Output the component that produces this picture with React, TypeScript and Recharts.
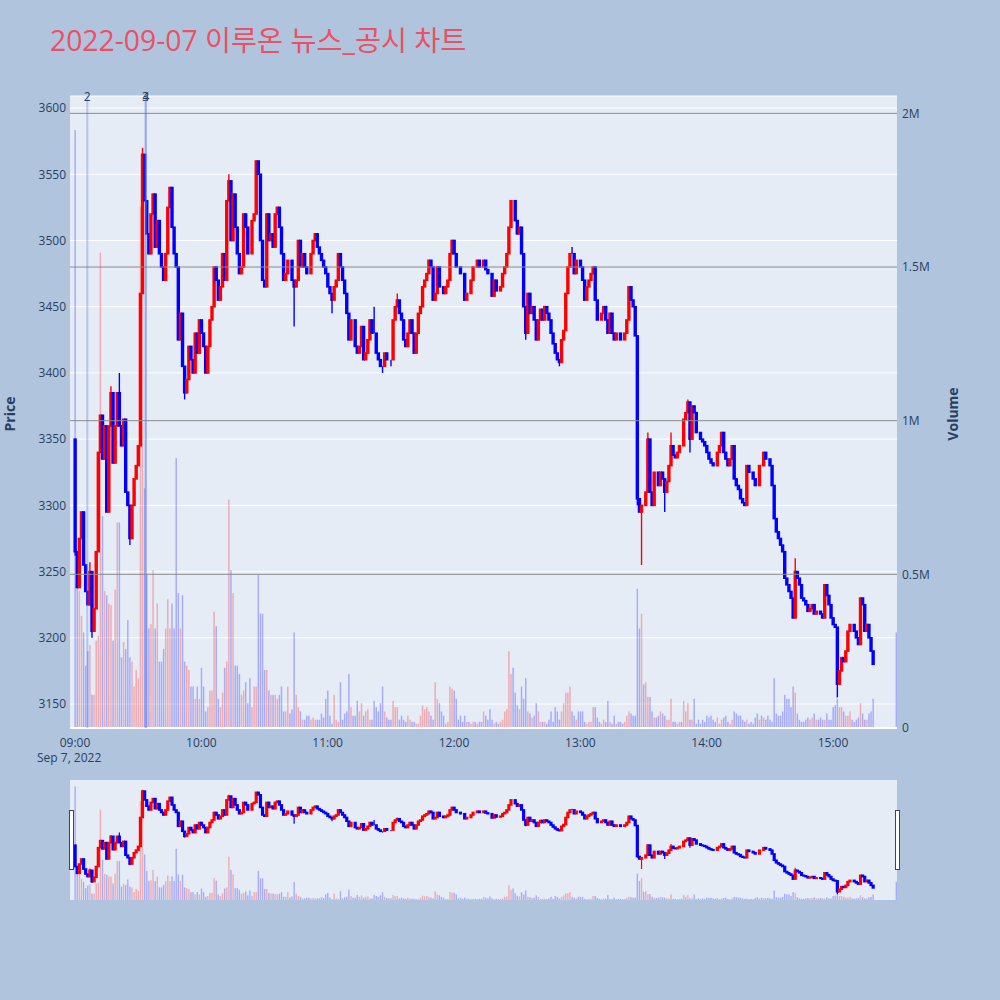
import React from 'react';
import { ComposedChart, Bar, XAxis, YAxis, CartesianGrid, ReferenceLine } from 'recharts';

// minutes after 09:00, one candle per minute
const firstOpen = 3350;
const closes = [
  3265, 3238, 3275, 3295, 3255, 3235, 3225, 3250, 3205, 3222,
  3265, 3340, 3368, 3335, 3360, 3295, 3360, 3385, 3332, 3360,
  3385, 3360, 3345, 3365, 3310, 3300, 3275, 3300, 3320, 3330,
  3345, 3460, 3565, 3530, 3505, 3490, 3520, 3535, 3495, 3515,
  3490, 3480, 3470, 3490, 3525, 3540, 3510, 3490, 3480, 3425,
  3445, 3405, 3385, 3395, 3420, 3410, 3400, 3430, 3415, 3440,
  3430, 3420, 3400, 3420, 3440, 3450, 3480, 3470, 3455, 3465,
  3490, 3470, 3530, 3545, 3500, 3535, 3510, 3490, 3475, 3480,
  3520, 3510, 3490, 3490, 3515, 3520, 3560, 3550, 3500, 3470,
  3465, 3520, 3500, 3505, 3495, 3520, 3525, 3510, 3490, 3470,
  3475, 3485, 3485, 3470, 3465, 3470, 3500, 3480, 3490, 3480,
  3475, 3475, 3490, 3500, 3505, 3495, 3490, 3485, 3480, 3475,
  3465, 3460, 3455, 3465, 3470, 3490, 3480, 3470, 3460, 3445,
  3425, 3440, 3440, 3420, 3415, 3420, 3435, 3410, 3415, 3425,
  3440, 3430, 3430, 3415, 3410, 3405, 3405, 3415, 3410, 3410,
  3410, 3440, 3450, 3455, 3445, 3440, 3425, 3420, 3430, 3440,
  3430, 3415, 3430, 3445, 3450, 3465, 3470, 3475, 3485, 3480,
  3455, 3460, 3480, 3465, 3465, 3460, 3465, 3470, 3490, 3500,
  3490, 3480, 3480, 3475, 3475, 3455, 3460, 3460, 3470, 3480,
  3480, 3485, 3480, 3480, 3485, 3478, 3475, 3475, 3458, 3470,
  3462, 3462, 3465, 3475, 3480, 3490, 3510, 3530, 3530, 3515,
  3505, 3510, 3490, 3450, 3430, 3460, 3445, 3450, 3440, 3425,
  3440, 3448, 3440, 3450, 3445, 3440, 3430, 3422, 3415, 3410,
  3408, 3425, 3432, 3460, 3480, 3490, 3490, 3475, 3485, 3485,
  3480, 3470, 3455, 3465, 3470, 3475, 3480, 3455, 3440, 3440,
  3445, 3450, 3440, 3430, 3445, 3430, 3425, 3430, 3430, 3425,
  3425, 3430, 3440, 3465, 3455, 3450, 3428, 3305, 3295, 3300,
  3300, 3310, 3350, 3310, 3300, 3325, 3325, 3315, 3325, 3320,
  3310, 3318, 3330, 3345, 3338, 3336, 3340, 3345, 3345, 3365,
  3370, 3378, 3350, 3375, 3370, 3355, 3355, 3350, 3348, 3345,
  3340, 3335, 3332, 3330, 3330, 3340, 3345, 3355, 3340, 3335,
  3330, 3335, 3345, 3320, 3315, 3312, 3305, 3302, 3300, 3330,
  3325, 3325, 3320, 3315, 3315, 3330, 3330, 3340, 3335, 3335,
  3330, 3315, 3290, 3280, 3275, 3270, 3265, 3245, 3240, 3235,
  3230, 3215, 3250, 3245, 3240, 3230, 3228, 3225, 3220, 3222,
  3225, 3218, 3220, 3220, 3218, 3215, 3240, 3232, 3225, 3215,
  3210, 3208, 3165, 3175, 3185, 3182, 3190, 3205, 3210, 3210,
  3205, 3200, 3195, 3230, 3225, 3205, 3210, 3200, 3190, 3180,
];

// volume in thousands of shares, per minute
const volumesK = [
  1946, 480, 446, 365, 311, 203, 250, 270, 108, 108,
  284, 300, 1547, 689, 446, 432, 405, 400, 284, 450,
  669, 669, 230, 280, 257, 351, 230, 216, 135, 189,
  162, 1696, 1450, 780, 500, 324, 338, 514, 324, 405,
  216, 216, 257, 324, 419, 324, 405, 324, 878, 439,
  324, 432, 216, 203, 189, 135, 135, 95, 135, 95,
  196, 135, 54, 68, 122, 122, 378, 331, 95, 68,
  115, 196, 216, 743, 514, 439, 203, 203, 176, 108,
  122, 149, 81, 162, 68, 135, 135, 500, 372, 372,
  189, 189, 122, 108, 108, 108, 95, 108, 135, 54,
  54, 135, 47, 60, 311, 108, 68, 54, 27, 27,
  40, 40, 27, 34, 27, 27, 27, 47, 34, 95,
  122, 40, 14, 108, 27, 20, 149, 27, 47, 54,
  176, 68, 40, 40, 88, 54, 81, 40, 54, 61,
  27, 27, 88, 68, 54, 81, 135, 54, 34, 27,
  27, 88, 68, 68, 27, 40, 27, 20, 40, 27,
  20, 20, 14, 14, 40, 74, 61, 68, 54, 40,
  27, 149, 95, 81, 54, 40, 14, 20, 135, 128,
  122, 95, 27, 40, 20, 40, 20, 20, 14, 20,
  20, 14, 20, 20, 54, 40, 27, 61, 27, 14,
  20, 14, 20, 27, 54, 61, 250, 176, 196, 115,
  74, 61, 135, 95, 162, 54, 47, 34, 40, 81,
  54, 20, 20, 20, 14, 27, 54, 20, 68, 54,
  27, 54, 81, 115, 115, 135, 54, 40, 27, 54,
  54, 54, 20, 14, 20, 20, 68, 68, 34, 20,
  14, 27, 20, 88, 20, 14, 40, 14, 20, 20,
  14, 20, 40, 54, 47, 40, 40, 453, 324, 372,
  142, 149, 101, 101, 54, 34, 34, 40, 54, 47,
  40, 27, 27, 95, 20, 20, 14, 20, 20, 88,
  54, 81, 27, 27, 95, 14, 27, 14, 27, 20,
  40, 34, 40, 27, 20, 34, 14, 27, 34, 40,
  20, 14, 27, 54, 47, 40, 40, 27, 20, 27,
  14, 20, 14, 34, 47, 27, 40, 34, 27, 40,
  27, 20, 162, 47, 40, 40, 54, 108, 95, 95,
  68, 135, 115, 47, 27, 20, 20, 27, 34, 27,
  34, 47, 27, 27, 34, 27, 27, 47, 27, 27,
  68, 74, 95, 68, 68, 54, 40, 40, 54, 27,
  20, 27, 34, 81, 47, 27, 27, 47, 54, 95,
];

// upper / lower wicks that stick out beyond the candle bodies
const highWicks: Record<number, number> = {
  7: 3257, 17: 3390, 21: 3400, 32: 3570, 73: 3550, 142: 3450, 153: 3460,
  236: 3495, 272: 3355, 283: 3355, 291: 3380, 342: 3260,
};
const lowWicks: Record<number, number> = {
  0: 3262, 8: 3200, 26: 3270, 52: 3380, 104: 3435, 122: 3445, 146: 3400, 150: 3405,
  214: 3425, 230: 3405, 267: 3300, 269: 3255, 280: 3295, 292: 3340, 362: 3155,
};

// closing auction (15:30)
const auctionMinute = 390;
const auctionPrice = 3180;
const auctionVolumeK = 311;

const priceTicks = [3150, 3200, 3250, 3300, 3350, 3400, 3450, 3500, 3550, 3600];
const volumeTicks = [0, 500000, 1000000, 1500000, 2000000];
const volumeTickLabels = ['0', '0.5M', '1M', '1.5M', '2M'];
const volumeGridValues = [500000, 1000000, 1500000, 2000000];
const timeTicks = [0, 60, 120, 180, 240, 300, 360];
const timeTickLabels = ['09:00', '10:00', '11:00', '12:00', '13:00', '14:00', '15:00'];
const newsMarkers = [
  { t: 5.85, label: '2' },
  { t: 33.45, label: '3' },
  { t: 33.75, label: '4' },
];

const titleText = '2022-09-07 이루온 뉴스_공시 차트';
const dateLabel = 'Sep 7, 2022';

type Row = { t: number; open: number; close: number; high: number; low: number; volume: number };

const rows: Row[] = closes.map((c, i) => {
  const o = i === 0 ? firstOpen : closes[i - 1];
  const hw = highWicks[i];
  const lw = lowWicks[i];
  return {
    t: i,
    open: o,
    close: c,
    high: Math.max(o, c, hw !== undefined ? hw : -Infinity),
    low: Math.min(o, c, lw !== undefined ? lw : Infinity),
    volume: volumesK[i] * 1000,
  };
});
rows.push({
  t: auctionMinute,
  open: auctionPrice,
  close: auctionPrice,
  high: auctionPrice,
  low: auctionPrice,
  volume: auctionVolumeK * 1000,
});

const RED = '#ff0000';
const BLUE = '#0000ff';
const PAPER = '#b0c4de';
const PLOT_BG = '#e5ecf6';
const TEXT = '#2a3f5f';
const FONT = "'Open Sans', 'Noto Sans CJK KR', sans-serif";

const X_DOMAIN: [number, number] = [-2.37, 390.4];
const PRICE_DOMAIN: [number, number] = [3131.9, 3609.1];
const VOL_DOMAIN: [number, number] = [0, 2056500];

const makeCandle = (bodyW: number, wickW: number, strokeW: number) => (props: any) => {
  const { x, y, width, height, payload } = props;
  if (x == null || y == null || !payload) return <g />;
  const { open, close, high, low } = payload as Row;
  const span = high - low;
  const h = height || 0;
  const k = span > 0 ? h / span : 0;
  const cx = x + width / 2;
  const yO = y + (high - open) * k;
  const yC = y + (high - close) * k;
  const color = close > open ? RED : BLUE;
  const top = Math.min(yO, yC);
  const bh = Math.abs(yO - yC);
  return (
    <g>
      {h > 0 && <line x1={cx} x2={cx} y1={y} y2={y + h} stroke={color} strokeWidth={wickW} />}
      <rect x={cx - bodyW / 2} y={top} width={bodyW} height={bh} fill={color} stroke={color} strokeWidth={strokeW} />
    </g>
  );
};

const makeVolume = (w: number) => (props: any) => {
  const { x, y, width, height, payload } = props;
  if (x == null || y == null || !payload) return <g />;
  const up = payload.close > payload.open;
  const cx = x + width / 2;
  return <rect x={cx - w / 2} y={y} width={w} height={Math.max(0, height || 0)} fill={up ? RED : BLUE} fillOpacity={0.27} />;
};

const mainCandle = makeCandle(1.8, 1.4, 1.6);
const miniCandle = makeCandle(1.6, 1.2, 1.6);
const mainVolume = makeVolume(1.5);
const miniVolume = makeVolume(1.4);

const MarkerLabel = (props: any) => {
  const { viewBox, text } = props;
  if (!viewBox) return null;
  return (
    <text x={viewBox.x} y={viewBox.y + 5} textAnchor="middle" fontSize={12} fill={TEXT} fontFamily={FONT}>
      {text}
    </text>
  );
};

const tickStyle = { fill: TEXT, fontSize: 12, fontFamily: FONT };

export default function App() {
  return (
    <div style={{ position: 'absolute', left: 0, top: 0, width: 1000, height: 1000, background: PAPER, overflow: 'hidden' }}>
      <div style={{ position: 'absolute', left: 0, top: 0 }}>
        <ComposedChart width={1000} height={770} data={rows} margin={{ top: 96, right: 0, left: 0, bottom: 12 }}>
          <CartesianGrid xAxisId="t" yAxisId="price" vertical={false} stroke="#ffffff" strokeWidth={1} fill={PLOT_BG} fillOpacity={1} />
          <XAxis
            xAxisId="t"
            dataKey="t"
            type="number"
            domain={X_DOMAIN}
            allowDataOverflow
            ticks={timeTicks}
            interval={0}
            tickFormatter={(v: number) => timeTickLabels[timeTicks.indexOf(v)] ?? ''}
            tick={tickStyle}
            tickLine={false}
            axisLine={false}
            tickSize={0}
            tickMargin={10}
            height={30}
          />
          <XAxis xAxisId="v" dataKey="t" type="number" domain={X_DOMAIN} allowDataOverflow hide />
          <YAxis
            yAxisId="price"
            orientation="left"
            domain={PRICE_DOMAIN}
            allowDataOverflow
            ticks={priceTicks}
            interval={0}
            tick={tickStyle}
            tickLine={false}
            axisLine={false}
            tickSize={0}
            tickMargin={4}
            width={70}
          />
          <YAxis
            yAxisId="vol"
            orientation="right"
            domain={VOL_DOMAIN}
            allowDataOverflow
            ticks={volumeTicks}
            interval={0}
            tickFormatter={(v: number) => volumeTickLabels[volumeTicks.indexOf(v)] ?? ''}
            tick={tickStyle}
            tickLine={false}
            axisLine={false}
            tickSize={0}
            tickMargin={5}
            width={103}
          />
          <ReferenceLine xAxisId="v" yAxisId="vol" y={0} stroke="#ffffff" strokeWidth={2} />
          {volumeGridValues.map((v) => (
            <ReferenceLine key={v} xAxisId="v" yAxisId="vol" y={v} stroke="#8c8c8c" strokeWidth={1} />
          ))}
          <Bar xAxisId="v" yAxisId="vol" dataKey="volume" shape={mainVolume} isAnimationActive={false} />
          {newsMarkers.map((m) => (
            <ReferenceLine
              key={m.label}
              xAxisId="t"
              yAxisId="price"
              x={m.t}
              stroke="rgba(90,120,230,0.35)"
              strokeWidth={2}
              label={<MarkerLabel text={m.label} />}
            />
          ))}
          <Bar
            xAxisId="t"
            yAxisId="price"
            dataKey={(d: Row) => [d.low, d.high]}
            shape={mainCandle}
            isAnimationActive={false}
          />
        </ComposedChart>
      </div>

      <div style={{ position: 'absolute', left: 0, top: 780 }}>
        <ComposedChart width={1000} height={120} data={rows} margin={{ top: 0, right: 103, left: 70, bottom: 0 }}>
          <CartesianGrid xAxisId="t" yAxisId="price" vertical={false} horizontal={false} fill={PLOT_BG} fillOpacity={1} />
          <XAxis xAxisId="t" dataKey="t" type="number" domain={X_DOMAIN} allowDataOverflow hide />
          <XAxis xAxisId="v" dataKey="t" type="number" domain={X_DOMAIN} allowDataOverflow hide />
          <YAxis yAxisId="price" domain={PRICE_DOMAIN} allowDataOverflow hide />
          <YAxis yAxisId="vol" orientation="right" domain={VOL_DOMAIN} allowDataOverflow hide />
          <Bar xAxisId="v" yAxisId="vol" dataKey="volume" shape={miniVolume} isAnimationActive={false} />
          <Bar
            xAxisId="t"
            yAxisId="price"
            dataKey={(d: Row) => [d.low, d.high]}
            shape={miniCandle}
            isAnimationActive={false}
          />
        </ComposedChart>
      </div>

      <svg width={1000} height={1000} style={{ position: 'absolute', left: 0, top: 0, pointerEvents: 'none' }}>
        <text x={50} y={51} fontSize={28.3} fill="#eb5064" fontFamily={FONT}>
          {titleText}
        </text>
        <text x={15} y={414} transform="rotate(-90 15 414)" textAnchor="middle" fontSize={14} fontWeight="bold" fill={TEXT} fontFamily={FONT}>
          Price
        </text>
        <text x={958} y={414} transform="rotate(-90 958 414)" textAnchor="middle" fontSize={14} fontWeight="bold" fill={TEXT} fontFamily={FONT}>
          Volume
        </text>
        <text x={37} y={762} fontSize={12} fill={TEXT} fontFamily={FONT}>
          {dateLabel}
        </text>
        <rect x={69.5} y={810.5} width={4} height={59} fill="#ffffff" stroke="#444444" strokeWidth={1} />
        <rect x={895.5} y={810.5} width={4} height={59} fill="#ffffff" stroke="#444444" strokeWidth={1} />
      </svg>
    </div>
  );
}
